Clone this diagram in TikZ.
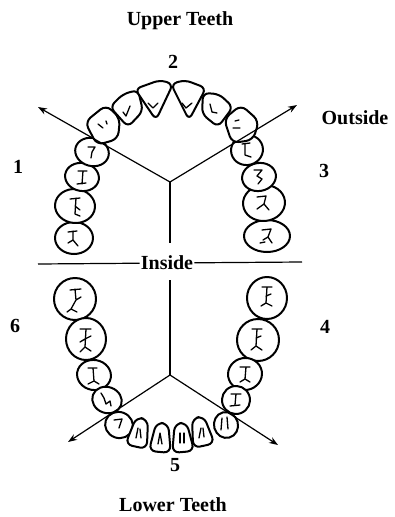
\documentclass[tikz,border=0pt]{standalone}
\usepackage{fontspec}
\setmainfont{Liberation Serif}
\usetikzlibrary{arrows.meta,positioning}

% one back tooth: centre x, centre y, x radius, y radius, tilt
\newcommand{\rtooth}[5]{\draw[tooth,rotate around={#5:(#1,#2)}] (#1,#2) ellipse ({#3} and {#4});}
% one lower front tooth: centre x, centre y, tilt
\newcommand{\lowinc}[3]{\draw[tooth,shift={(#1,#2)},rotate=#3,rounded corners=7pt]
  (-11,14) -- (-6,-15) -- (6,-15) -- (11,14) -- cycle;}

\begin{document}
\begin{tikzpicture}[
      x=1pt,y=-1pt,
      >={Stealth[length=9pt,width=6.5pt]},
      lbl/.style={font=\fontsize{20}{24}\selectfont\bfseries,inner sep=1pt},
      tooth/.style={draw,line width=2pt,fill=white,line join=round},
      fiss/.style={line width=1.3pt,line cap=round,line join=round},
      axis/.style={line width=1.2pt}
    ]
    \useasboundingbox (0,0) rectangle (395,517);

    % labels
    \begin{scope}[every node/.style={lbl}]
      \node (upper)   at (180,21 ) {Upper Teeth};
      \node (two)     at (173,62 ) {2};
      \node (outside) at (355,118) {Outside};
      \node (one)     at ( 18,167) {1};
      \node (three)   at (324,171) {3};
      \node (inside)  at (167,263) {Inside};
      \node (six)     at ( 15,326) {6};
      \node (four)    at (325,327) {4};
      \node (five)    at (175,465) {5};
      \node (lower)   at (173,505) {Lower Teeth};
    \end{scope}

    % upper teeth
    \rtooth{74}{238}{19}{16}{0}
    \rtooth{75}{206}{20}{17}{-5}
    \rtooth{82}{177}{17}{14}{-10}
    \rtooth{92}{152}{17}{14}{-15}
    \rtooth{267}{236}{23}{16}{0}
    \rtooth{264}{203}{21}{18}{5}
    \rtooth{259}{177}{17}{14}{10}
    \rtooth{247}{150}{16}{15}{15}
    \draw[tooth,rounded corners=7pt] (85,122) -- (106,105) -- (120,118) -- (118,139) -- (97,145) -- cycle;
    \draw[tooth,rounded corners=7pt] (224,119) -- (241,105) -- (259,121) -- (253,140) -- (232,143) -- cycle;
    \draw[tooth,rounded corners=6pt] (110,107) -- (123,94) -- (138,90) -- (143,111) -- (128,127) -- cycle;
    \draw[tooth,rounded corners=6pt] (203,93) -- (219,94) -- (233,107) -- (218,127) -- (202,114) -- cycle;
    \draw[tooth,rounded corners=6pt] (135,89) -- (160,80) -- (173,84) -- (156,120) -- cycle;
    \draw[tooth,rounded corners=6pt] (171,84) -- (185,80) -- (206,88) -- (189,120) -- cycle;

    % lower teeth
    \rtooth{75}{299}{21}{21}{0}
    \rtooth{86}{339}{20}{21}{0}
    \rtooth{94}{375}{17}{15}{-10}
    \rtooth{107}{400}{15}{13}{-20}
    \rtooth{267}{298}{20}{21}{0}
    \rtooth{258}{340}{21}{21}{0}
    \rtooth{245}{374}{17}{16}{10}
    \rtooth{236}{400}{14}{14}{20}
    \rtooth{119}{425}{14}{13}{-20}
    \rtooth{226}{425}{12}{13}{15}
    \lowinc{139}{433}{-12}
    \lowinc{201}{432}{12}
    \lowinc{161}{438}{-5}
    \lowinc{182}{438}{5}

    % fissures, upper
    \draw[fiss] (68,232) -- (77,231) (73,231) -- (73,240) -- (78,246) (73,240) -- (68,243);
    \draw[fiss] (70,199) -- (80,198) (76,198) -- (75,214) (75,206) -- (80,210) (75,214) -- (80,216);
    \draw[fiss] (78,171) -- (87,171) (83,171) -- (82,184) (77,184) -- (86,183);
    \draw[fiss] (88,147) -- (95,147) -- (92,152) -- (91,158);
    \draw[fiss] (98,124) -- (103,128) (106,121) -- (107,124);
    \draw[fiss] (123,112) -- (126,116) -- (130,106);
    \draw[fiss] (148,103) -- (153,108) -- (158,103);
    \draw[fiss] (182,103) -- (186,108) -- (192,103);
    \draw[fiss] (210,104) -- (212,112) -- (217,113);
    \draw[fiss] (235,121) -- (239,120) (233,128) -- (240,128);
    \draw[fiss] (242,144) -- (250,143) (245,144) -- (245,155) -- (251,157);
    \draw[fiss] (254,170) -- (262,170) -- (257,176) -- (262,179) -- (258,184);
    \draw[fiss] (257,197) -- (266,196) -- (264,204) -- (269,210) (264,204) -- (257,209);
    \draw[fiss] (262,230) -- (271,229) -- (268,237) -- (272,243) (268,237) -- (263,240) (260,243) -- (265,242);

    % fissures, lower
    \draw[fiss] (70,290) -- (81,289) (75,289) -- (76,300) -- (71,309) (76,300) -- (81,297) (71,309) -- (67,312) (71,309) -- (77,312);
    \draw[fiss] (80,329) -- (91,329) (86,329) -- (85,347) (85,339) -- (80,342) (85,339) -- (91,336) (85,347) -- (80,352) (85,347) -- (91,351);
    \draw[fiss] (88,368) -- (97,368) (93,368) -- (94,381) (94,381) -- (88,384) (94,381) -- (99,384);
    \draw[fiss] (101,393) -- (104,398) -- (106,404) -- (110,401) -- (111,406);
    \draw[fiss] (114,420) -- (122,419) -- (119,428);
    \draw[fiss] (136,438) -- (138,428) (140,429) -- (141,438);
    \draw[fiss] (158,444) -- (160,433) -- (162,444);
    \draw[fiss] (180,433) -- (180,443) (184,433) -- (184,443);
    \draw[fiss] (199,438) -- (201,428) (203,428) -- (204,437);
    \draw[fiss] (222,418) -- (221,430) (227,417) -- (228,429);
    \draw[fiss] (231,394) -- (241,394) (236,394) -- (235,405) (230,406) -- (240,405);
    \draw[fiss] (240,367) -- (250,367) (246,367) -- (245,379) (245,379) -- (240,382) (245,379) -- (250,382);
    \draw[fiss] (252,329) -- (262,329) (257,329) -- (256,346) (256,338) -- (261,336) (256,346) -- (251,350) (256,346) -- (262,350);
    \draw[fiss] (262,287) -- (272,287) (267,287) -- (266,303) (266,296) -- (271,294) (266,303) -- (261,306) (266,303) -- (272,306);

    % axes
    \coordinate (uc) at (170,182);
    \coordinate (ul) at ( 38,107);
    \coordinate (ur) at (297,105);
    \coordinate (ub) at (170,243);
    \coordinate (lc) at (170,375);
    \coordinate (lt) at (170,280);
    \coordinate (ll) at ( 68,442);
    \coordinate (lr) at (278,445);
    \coordinate (il) at ( 38,264);
    \coordinate (ir) at (302,262);
    \draw[axis,->] (uc) -- (ul);
    \draw[axis,->] (uc) -- (ur);
    \draw[axis] (uc) -- (ub);
    \draw[axis,->] (lc) -- (ll);
    \draw[axis,->] (lc) -- (lr);
    \draw[axis] (lc) -- (lt);
    \draw[axis] (il) -- (inside);
    \draw[axis] (inside) -- (ir);
  \end{tikzpicture}
\end{document}
